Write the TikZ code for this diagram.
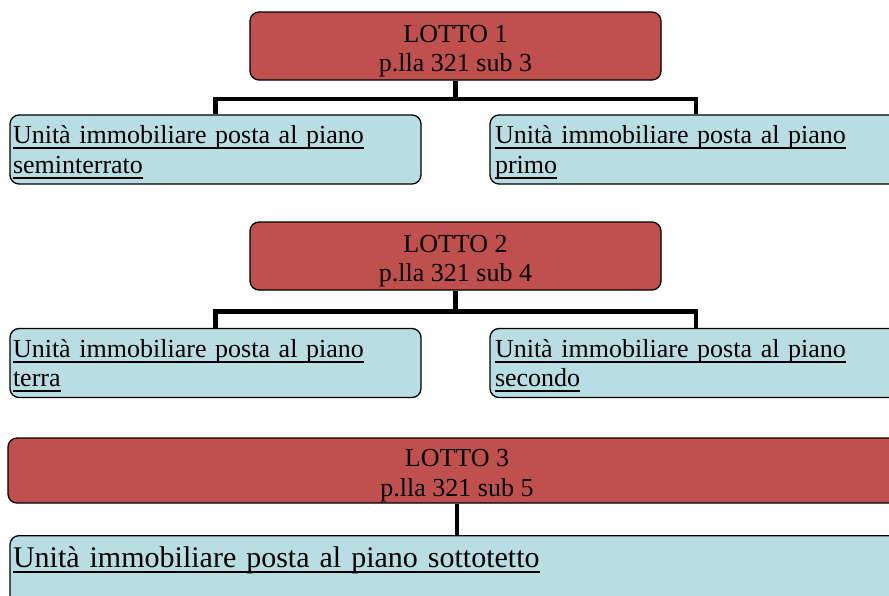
\documentclass[tikz,border=0pt]{standalone}
\usepackage{fontspec}
\setmainfont{Liberation Serif}
\usepackage{xcolor}
\usetikzlibrary{positioning}

\definecolor{lottored}{HTML}{C0504D}
\definecolor{unitblue}{HTML}{B8DEE3}
\newcommand{\undl}[1]{\leavevmode\setbox0\hbox{#1}\rlap{\rule[-5.5pt]{\wd0}{1.8pt}}\box0}

\begin{document}
\begin{tikzpicture}[
  x=1pt, y=-1pt,
  every node/.style={font=\fontsize{26}{29.5}\selectfont},
  lotto/.style={rectangle, draw, fill=lottored, rounded corners=9pt,
    line width=1.3pt, minimum width=411pt, minimum height=68pt,
    align=center, inner sep=0pt},
  unit/.style={rectangle, draw, fill=unitblue, rounded corners=9pt,
    line width=1.3pt, minimum width=411pt, minimum height=69pt,
    text width=405pt, align=left, inner xsep=3pt, inner ysep=0pt},
  link/.style={line width=4.5pt},
]
\clip (0,0) rectangle (889,595);

% ========= Lotto 1 =========
\node[lotto] at (455.5, 46) (l1) {\rule{0pt}{27.6pt}LOTTO 1\\p.lla 321 sub 3};
\node[unit] at (215.5, 149.5) (s1a)
  {\rule{0pt}{24pt}\undl{Unità immobiliare posta al piano}\\\undl{seminterrato}\rule[-6pt]{0pt}{6pt}};
\node[unit, minimum width=412pt, text width=402pt, inner xsep=5pt] at (696, 149.5) (s1b)
  {\rule{0pt}{24pt}\undl{Unità immobiliare posta al piano}\\\undl{primo}\rule[-6pt]{0pt}{6pt}};

% ========= Lotto 2 =========
\node[lotto] at (455.5, 256) (l2) {\rule{0pt}{27.6pt}LOTTO 2\\p.lla 321 sub 4};
\node[unit] at (215.5, 363) (s2a)
  {\rule{0pt}{24pt}\undl{Unità immobiliare posta al piano}\\\undl{terra}\rule[-6pt]{0pt}{6pt}};
\node[unit, minimum width=412pt, text width=402pt, inner xsep=5pt] at (696, 363) (s2b)
  {\rule{0pt}{24pt}\undl{Unità immobiliare posta al piano}\\\undl{secondo}\rule[-6pt]{0pt}{6pt}};

% ========= Lotto 3 =========
\node[lotto, minimum width=898pt, minimum height=65pt] at (457, 470.5) (l3)
  {\rule{0pt}{27.6pt}LOTTO 3\\p.lla 321 sub 5};
\node[unit, anchor=north, minimum width=894pt, text width=888pt, minimum height=0pt,
  text height=32pt, text depth=50pt, font=\fontsize{30}{34}\selectfont] at (457, 535) (s3)
  {\undl{Unità immobiliare posta al piano sottotetto}};

% ========= Links =========
\coordinate[below=18.5pt of l1.south] (j1);
\draw[link] (l1.south) -- (j1);
\draw[link] (j1) -| (s1a.north);
\draw[link] (j1) -| (s1b.north);

\coordinate[below=21pt of l2.south] (j2);
\draw[link] (l2.south) -- (j2);
\draw[link] (j2) -| (s2a.north);
\draw[link] (j2) -| (s2b.north);

\draw[link] (l3.south) -- (s3.north);

\end{tikzpicture}
\end{document}
